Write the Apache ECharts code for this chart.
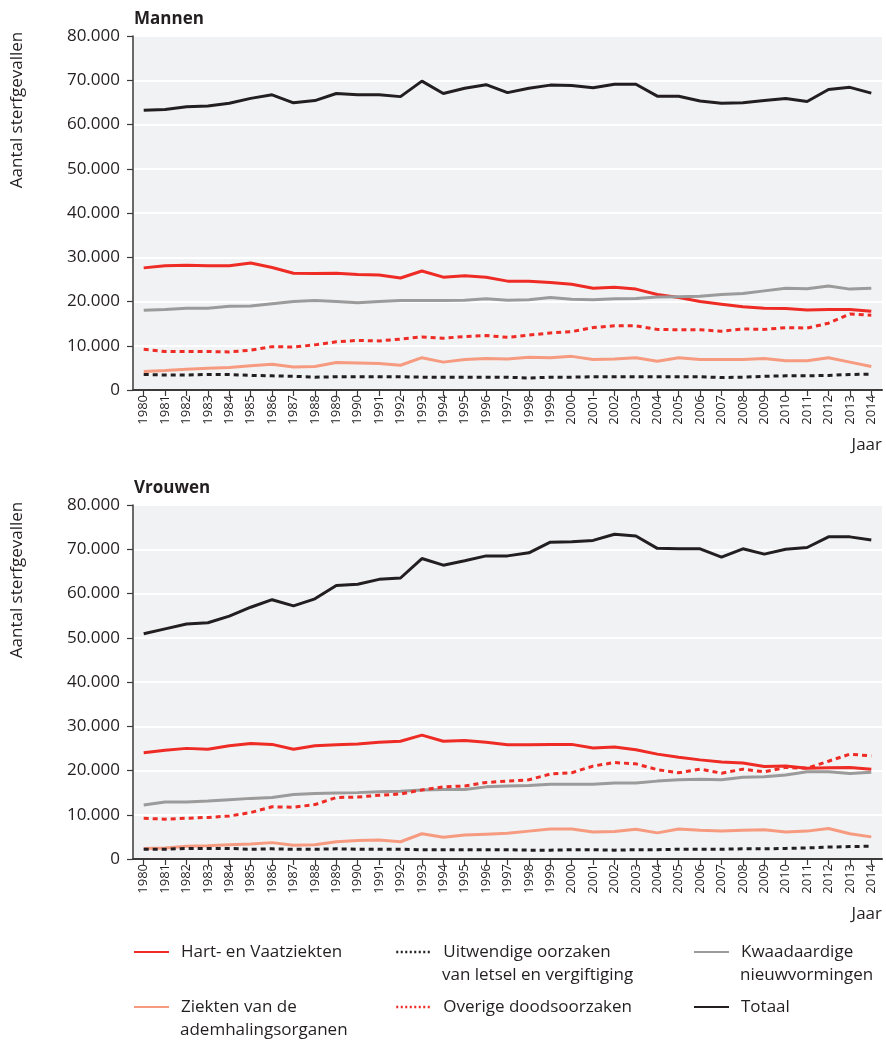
<!DOCTYPE html>
<html>
<head>
<meta charset="utf-8">
<script src="https://cdn.jsdelivr.net/npm/echarts@6/dist/echarts.min.js"></script>
<style>
html,body{margin:0;padding:0;background:#fff;}
#chart{width:886px;height:1041px;}
</style>
</head>
<body>
<div id="chart"></div>
<script>
// Years (category / tick labels)
const years = ['1980','1981','1982','1983','1984','1985','1986','1987','1988','1989','1990','1991','1992','1993','1994','1995','1996','1997','1998','1999','2000','2001','2002','2003','2004','2005','2006','2007','2008','2009','2010','2011','2012','2013','2014'];

// Y tick values (in thousands; labels shown as "x.000")
const yTicks = [0,10,20,30,40,50,60,70,80];

// Series names
const nameHart = 'Hart- en Vaatziekten';
const nameUitw = 'Uitwendige oorzaken van letsel en vergiftiging';
const nameKwaad = 'Kwaadaardige nieuwvormingen';
const nameAdem = 'Ziekten van de ademhalingsorganen';
const nameOverig = 'Overige doodsoorzaken';
const nameTotaal = 'Totaal';

// Mannen (x 1000 sterfgevallen)
const totaalM = [63.2,63.4,64.0,64.2,64.8,65.9,66.7,64.9,65.4,67.0,66.7,66.7,66.3,69.8,67.0,68.2,69.0,67.2,68.2,68.9,68.8,68.3,69.1,69.1,66.4,66.4,65.3,64.8,64.9,65.4,65.9,65.2,67.9,68.4,67.1];
const hartM   = [27.6,28.1,28.2,28.1,28.1,28.7,27.7,26.4,26.3,26.4,26.1,26.0,25.3,26.9,25.5,25.8,25.5,24.6,24.6,24.3,23.9,23.0,23.2,22.8,21.6,20.9,20.0,19.4,18.8,18.5,18.4,18.1,18.2,18.2,17.8];
const kwaadM  = [18.0,18.2,18.5,18.5,18.9,19.0,19.5,20.0,20.2,20.0,19.7,20.0,20.2,20.2,20.2,20.3,20.6,20.3,20.4,20.9,20.5,20.4,20.6,20.7,21.0,21.1,21.2,21.6,21.8,22.4,23.0,22.9,23.5,22.8,23.0];
const overigM = [9.2,8.7,8.7,8.7,8.6,9.0,9.8,9.7,10.2,10.9,11.2,11.1,11.5,12.0,11.7,12.1,12.3,11.9,12.4,12.9,13.2,14.1,14.5,14.5,13.7,13.6,13.6,13.3,13.8,13.7,14.1,14.0,15.1,17.2,16.9];
const ademM   = [4.2,4.4,4.7,4.9,5.1,5.5,5.8,5.2,5.3,6.2,6.1,6.0,5.6,7.3,6.3,6.9,7.1,7.0,7.4,7.3,7.6,6.9,7.0,7.3,6.5,7.3,6.9,6.9,6.9,7.1,6.6,6.6,7.3,6.3,5.3];
const uitwM   = [3.5,3.4,3.4,3.5,3.5,3.3,3.2,3.1,2.9,3.0,3.0,3.0,3.0,2.9,2.9,2.9,2.9,2.9,2.7,2.9,2.9,3.0,3.0,3.0,3.0,3.0,3.0,2.8,2.9,3.1,3.2,3.2,3.3,3.5,3.6];

// Vrouwen (x 1000 sterfgevallen)
const totaalV = [50.9,52.0,53.1,53.4,54.9,56.9,58.6,57.2,58.8,61.8,62.1,63.2,63.5,67.9,66.4,67.4,68.5,68.5,69.2,71.6,71.7,72.0,73.4,73.0,70.2,70.1,70.1,68.2,70.1,68.9,70.0,70.4,72.8,72.8,72.1];
const hartV   = [24.0,24.6,25.0,24.8,25.6,26.1,25.9,24.8,25.6,25.8,26.0,26.4,26.6,28.0,26.6,26.8,26.4,25.8,25.8,25.9,25.9,25.1,25.3,24.7,23.7,23.0,22.4,21.9,21.7,20.9,21.0,20.5,20.6,20.7,20.3];
const kwaadV  = [12.2,12.9,12.9,13.1,13.4,13.7,13.9,14.6,14.8,14.9,15.0,15.2,15.3,15.6,15.7,15.7,16.3,16.5,16.6,16.9,16.9,16.9,17.2,17.2,17.6,17.9,18.0,17.9,18.5,18.6,19.0,19.7,19.7,19.3,19.6];
const overigV = [9.2,9.0,9.2,9.4,9.7,10.5,11.8,11.7,12.3,13.9,14.0,14.4,14.7,15.6,16.3,16.5,17.3,17.6,17.9,19.2,19.5,21.0,21.8,21.5,20.2,19.5,20.3,19.4,20.3,19.7,20.7,20.5,22.1,23.7,23.3];
const ademV   = [2.4,2.5,2.9,3.0,3.2,3.4,3.7,3.1,3.2,3.9,4.2,4.3,3.9,5.7,4.9,5.4,5.6,5.8,6.3,6.8,6.8,6.1,6.2,6.7,5.9,6.8,6.5,6.3,6.5,6.6,6.1,6.3,6.9,5.7,5.0];
const uitwV   = [2.2,2.2,2.4,2.4,2.4,2.2,2.3,2.2,2.2,2.3,2.2,2.2,2.2,2.1,2.1,2.1,2.1,2.1,2.0,2.0,2.1,2.1,2.0,2.1,2.1,2.2,2.2,2.2,2.3,2.3,2.4,2.5,2.7,2.8,2.9];

const FONT = '"Open Sans", "Noto Sans", sans-serif';
const TXT = '#231f20';
const RED = '#ee2b24';
const SALMON = '#f69b80';
const GRAY = '#9b9b9b';
const BLACK = '#231f20';

const chart = echarts.init(document.getElementById('chart'), null, {renderer:'canvas'});

function yAxisCfg(gridIndex){
  return {
    type:'value', gridIndex, min:yTicks[0], max:yTicks[yTicks.length-1], interval:yTicks[1]-yTicks[0],
    axisLine:{show:true, lineStyle:{color:'#3a3a3a', width:1.5}},
    axisTick:{show:true, length:6, lineStyle:{color:'#3a3a3a', width:1.2}},
    axisLabel:{margin:13, fontSize:17, color:TXT, fontFamily:FONT,
      formatter: v => v === 0 ? '0' : v + '.000'},
    splitLine:{show:true, lineStyle:{color:'#ffffff', width:2}}
  };
}
function xAxisCfg(gridIndex){
  return {
    type:'category', gridIndex, data:years, boundaryGap:true,
    name:'Jaar', nameLocation:'end', nameGap:0,
    nameTextStyle:{fontSize:17, color:TXT, fontFamily:FONT, align:'right', verticalAlign:'top', padding:[47,0,0,0]},
    axisLine:{show:true, lineStyle:{color:'#3a3a3a', width:2}},
    axisTick:{show:true, alignWithLabel:true, length:6, lineStyle:{color:'#3a3a3a', width:1.2}},
    axisLabel:{rotate:90, interval:0, margin:5, fontSize:13, color:TXT, fontFamily:FONT},
    splitLine:{show:false}
  };
}
function seriesSet(gridIdx, d){
  const base = {type:'line', xAxisIndex:gridIdx, yAxisIndex:gridIdx, symbol:'none', smooth:false, animation:false};
  return [
    Object.assign({}, base, {name:nameTotaal, data:d.totaal, lineStyle:{color:BLACK, width:3}, itemStyle:{color:BLACK}, z:3}),
    Object.assign({}, base, {name:nameHart, data:d.hart, lineStyle:{color:RED, width:3}, itemStyle:{color:RED}, z:3}),
    Object.assign({}, base, {name:nameKwaad, data:d.kwaad, lineStyle:{color:GRAY, width:3}, itemStyle:{color:GRAY}, z:3}),
    Object.assign({}, base, {name:nameAdem, data:d.adem, lineStyle:{color:SALMON, width:3}, itemStyle:{color:SALMON}, z:3}),
    Object.assign({}, base, {name:nameOverig, data:d.overig, lineStyle:{color:RED, width:3, type:[5,4]}, itemStyle:{color:RED}, z:4}),
    Object.assign({}, base, {name:nameUitw, data:d.uitw, lineStyle:{color:BLACK, width:3, type:[5,4]}, itemStyle:{color:BLACK}, z:4})
  ];
}

const firstLine = {};
firstLine[nameHart] = 'Hart- en Vaatziekten';
firstLine[nameUitw] = 'Uitwendige oorzaken';
firstLine[nameKwaad] = 'Kwaadaardige';
firstLine[nameAdem] = 'Ziekten van de';
firstLine[nameOverig] = 'Overige doodsoorzaken';
firstLine[nameTotaal] = 'Totaal';

function legendCfg(left, items){
  return {
    orient:'vertical', left, top:942, padding:0, itemWidth:35, itemHeight:14, itemGap:35,
    selectedMode:false,
    itemStyle:{opacity:0},
    textStyle:{fontSize:17, color:TXT, fontFamily:FONT, lineHeight:20, padding:[0,0,0,7]},
    formatter: n => firstLine[n],
    data: items
  };
}

const subText = {fontSize:17, fill:TXT, fontFamily:FONT, verticalAlign:'middle'};

const option = {
  backgroundColor:'#ffffff',
  animation:false,
  title:[
    {text:'Mannen', left:134, top:11, padding:0, textStyle:{fontSize:17, fontWeight:'bold', color:TXT, fontFamily:FONT}},
    {text:'Vrouwen', left:134, top:480, padding:0, textStyle:{fontSize:17, fontWeight:'bold', color:TXT, fontFamily:FONT}}
  ],
  grid:[
    {left:133, top:36, width:749, height:354, show:true, backgroundColor:'#f1f2f4', borderWidth:0, containLabel:false},
    {left:133, top:505, width:749, height:354, show:true, backgroundColor:'#f1f2f4', borderWidth:0, containLabel:false}
  ],
  xAxis:[xAxisCfg(0), xAxisCfg(1)],
  yAxis:[yAxisCfg(0), yAxisCfg(1)],
  legend:[
    legendCfg(133, [{name:nameHart}, {name:nameAdem}]),
    legendCfg(395, [{name:nameUitw, lineStyle:{type:[2,2.5], width:2.5}}, {name:nameOverig, lineStyle:{type:[2,2.5], width:2.5}}]),
    legendCfg(693, [{name:nameKwaad}, {name:nameTotaal}])
  ],
  graphic:[
    {type:'text', x:17, y:110, rotation:Math.PI/2, style:{text:'Aantal sterfgevallen', fontSize:17, fill:TXT, fontFamily:FONT, align:'center', verticalAlign:'middle'}},
    {type:'text', x:17, y:580, rotation:Math.PI/2, style:{text:'Aantal sterfgevallen', fontSize:17, fill:TXT, fontFamily:FONT, align:'center', verticalAlign:'middle'}},
    {type:'text', x:442, y:975, style:Object.assign({text:'van letsel en vergiftiging'}, subText)},
    {type:'text', x:740, y:975, style:Object.assign({text:'nieuwvormingen'}, subText)},
    {type:'text', x:180, y:1030, style:Object.assign({text:'ademhalingsorganen'}, subText)}
  ],
  series: [].concat(
    seriesSet(0, {totaal:totaalM, hart:hartM, kwaad:kwaadM, adem:ademM, overig:overigM, uitw:uitwM}),
    seriesSet(1, {totaal:totaalV, hart:hartV, kwaad:kwaadV, adem:ademV, overig:overigV, uitw:uitwV})
  )
};
chart.setOption(option);
</script>
</body>
</html>
